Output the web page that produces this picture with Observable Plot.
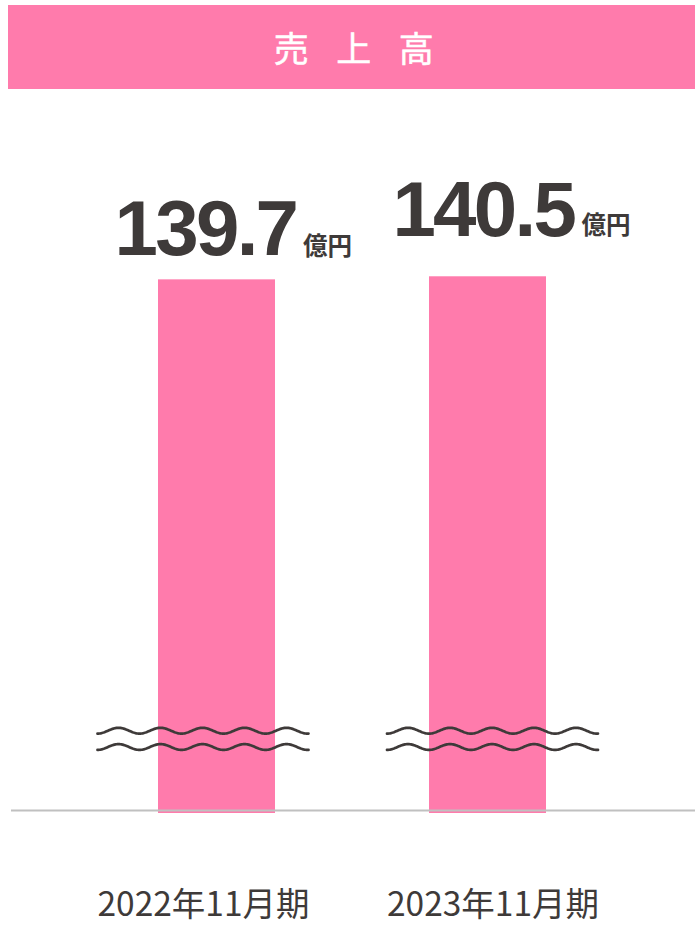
<!DOCTYPE html>
<html><head><meta charset="utf-8">
<script src="https://cdn.jsdelivr.net/npm/d3@7"></script>
<script src="https://cdn.jsdelivr.net/npm/@observablehq/plot@0.6"></script>
<style>
html,body{margin:0;padding:0;background:#fff;width:695px;height:926px;overflow:hidden}
#title{margin:5px 0 0 8px;width:687px;height:84px;background:#ff7bac;color:#fff;font-family:"Noto Sans CJK JP";font-size:35px;line-height:84px;text-align:center;letter-spacing:27.5px;padding-left:32px;box-sizing:border-box;white-space:nowrap;-webkit-text-stroke:0.5px #fff}
#chart svg{display:block}
</style></head><body>
<div id="title"></div>
<div id="chart"></div>
<script>
// ---- data ----
const titleText = "売上高";
const periods = ["2022年11月期", "2023年11月期"];
const sales = [139.7, 140.5];
const unitLabel = "億円";

// ---- layout tweaks (per column nudges, not data) ----
const nudge = [
  {labelDx: -102.4, labelDy: -24.85, unitDx: 86.1, unitDy: -24.35, axisDx: -13.5},
  {labelDx: -95.6, labelDy: -40.6, unitDx: 93.5, unitDy: -42.6, axisDx: 5}
];

document.getElementById("title").textContent = titleText;

const data = periods.map((p, i) => ({period: p, sales: sales[i]}));
const fmt = v => v.toFixed(1);
const ink = "#3e3a39";
const pink = "#ff7bac";

function breakMarks(index, scales) {
  const x = scales.x, y = scales.y;
  const bw = typeof x.bandwidth === "function" ? x.bandwidth() : 0;
  const y0 = y(0);
  const g = d3.create("svg:g").attr("fill", "none").attr("stroke", ink)
    .attr("stroke-width", 2.7).attr("stroke-linecap", "round");
  const period = 42, A = 2.9, half = 105.5;
  periods.forEach((p, i) => {
    const cx = x(p) + bw / 2 + nudge[i].axisDx;
    [-82.3, -66].forEach(off => {
      const cy = y0 + off;
      const pts = d3.range(0, 2 * half + 0.01, 1).map(t => [cx - half + t, cy + A * Math.cos(2 * Math.PI * t / period)]);
      g.append("path").attr("d", d3.line()(pts));
    });
  });
  return g.node();
}

const marks = [
  Plot.barY(data, {x: "period", y: "sales", fill: pink}),
  Plot.ruleY([0], {stroke: "#c0c0c0", strokeWidth: 2, dy: -3}),
  breakMarks
];
data.forEach((d, i) => {
  marks.push(
    Plot.text([d], {x: "period", y: "sales", text: r => fmt(r.sales), textAnchor: "start", lineAnchor: "bottom",
      dx: nudge[i].labelDx, dy: nudge[i].labelDy, fontSize: 78, fontWeight: "bold",
      fontFamily: "'Liberation Sans', Arial, sans-serif", fill: ink}),
    Plot.text([d], {x: "period", y: "sales", text: () => unitLabel, textAnchor: "start", lineAnchor: "bottom",
      dx: nudge[i].unitDx, dy: nudge[i].unitDy, fontSize: 24.5, fontWeight: "bold",
      fontFamily: "'Noto Sans CJK JP', sans-serif", fill: ink}),
    Plot.text([d], {x: "period", frameAnchor: "bottom", text: r => r.period, textAnchor: "middle", lineAnchor: "bottom",
      dx: nudge[i].axisDx, dy: 102, fontSize: 33.5, fontWeight: "normal",
      fontFamily: "'Noto Sans CJK JP', sans-serif", fill: ink})
  );
});

const chart = Plot.plot({
  width: 695,
  height: 837,
  marginLeft: 11,
  marginRight: 0,
  marginTop: 151,
  marginBottom: 113,
  style: {background: "#fff", overflow: "visible"},
  x: {type: "band", domain: periods, paddingInner: 0.5685, paddingOuter: 0.5434, align: 0.498, axis: null},
  y: {domain: [0, 150], axis: null},
  marks
});
// tighten the big value numbers
const valueStrings = sales.map(fmt);
chart.querySelectorAll("text").forEach(t => {
  if (valueStrings.includes(t.textContent)) t.style.letterSpacing = "-2.7px";
});
document.getElementById("chart").appendChild(chart);
</script>
</body></html>
